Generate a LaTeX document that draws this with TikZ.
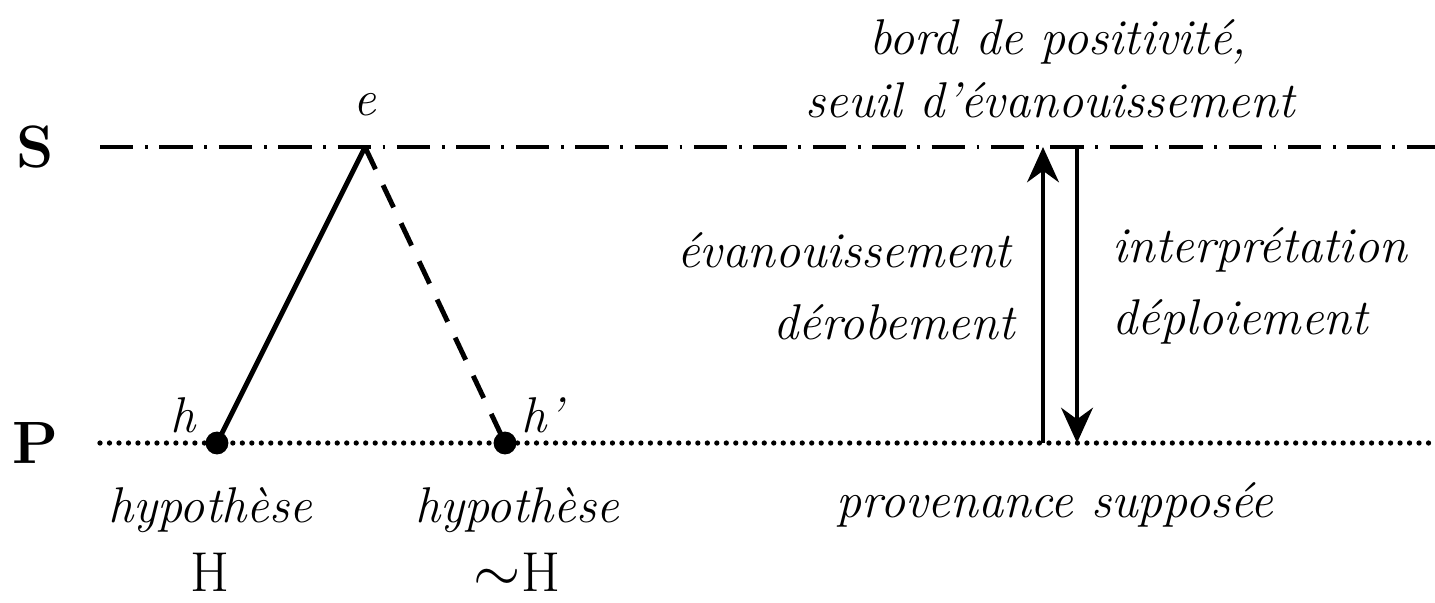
\documentclass[tikz,border=0pt]{standalone}
\usepackage{tikz}
\usetikzlibrary{positioning, arrows.meta}

\begin{document}
\begin{tikzpicture}[
  >=Stealth,
  txt/.style={font=\fontsize{14.3}{17}\selectfont\itshape, inner sep=0pt},
  lvl/.style={font=\fontsize{17}{20}\selectfont\bfseries, inner sep=0pt},
  big/.style={font=\fontsize{16}{19}\selectfont, inner sep=0pt},
  sline/.style={line width=1.2pt, dash pattern=on 9.5pt off 3.3pt on 0.8pt off 3.3pt},
  pline/.style={line width=1.5pt, line cap=round, dash pattern=on 0pt off 2.7pt},
  pt/.style={circle, fill=black, inner sep=0pt, minimum size=6.5pt},
  flow/.style={->, line width=1.4pt, >={Stealth[length=10pt, width=9pt]}},
]
\useasboundingbox (0,0) rectangle (14.35,6.02);

% === levels ===
\node[lvl] (S) at (0.35, 4.55) {S};
\node[lvl] (P) at (0.35, 1.59) {P};
\coordinate (s0) at (1.00, 4.55);
\coordinate (s1) at (14.35, 4.55);
\coordinate (p0) at (1.00, 1.59);
\coordinate (p1) at (14.35, 1.59);
\draw[sline] (s0) -- (s1);
\draw[pline] (p0) -- (p1);

% === hypotheses ===
\coordinate (e) at (3.65, 4.55);
\node[txt] (elbl) at (3.65, 4.97) {e};
\node[pt] (h) at (2.17, 1.59) {};
\node[pt] (hp) at (5.05, 1.59) {};
\node[txt] (hlbl) at (1.83, 1.87) {h};
\node[txt] (hplbl) at (5.42, 1.87) {h’};
\draw[line width=1.4pt] (h.center) -- (e);
\draw[line width=1.4pt, dash pattern=on 7pt off 5pt] (e) -- (hp.center);

\node[txt] (hyp1) at (2.10, 0.92) {hypothèse};
\node[big] (H1) at (2.10, 0.30) {H};
\node[txt] (hyp2) at (5.17, 0.92) {hypothèse};
\node[big] (H2) at (5.17, 0.30) {$\sim$H};

% === arrows ===
\coordinate (upA) at (10.43, 1.59);
\coordinate (upB) at (10.43, 4.55);
\coordinate (dnA) at (10.77, 4.55);
\coordinate (dnB) at (10.77, 1.59);
\draw[flow] (upA) -- (upB);
\draw[flow] (dnA) -- (dnB);

\node[txt, anchor=east] (evan) at (10.12, 3.52) {évanouissement};
\node[txt, anchor=east] (dero) at (10.15, 2.80) {dérobement};
\node[txt, anchor=west] (interp) at (11.12, 3.52) {interprétation};
\node[txt, anchor=west] (deplo) at (11.12, 2.80) {déploiement};

\node[txt] (bord) at (10.58, 5.60) {bord de positivité,};
\node[txt] (seuil) at (10.50, 5.02) {seuil d’évanouissement};
\node[txt] (prov) at (10.55, 0.97) {provenance supposée};
\end{tikzpicture}
\end{document}
